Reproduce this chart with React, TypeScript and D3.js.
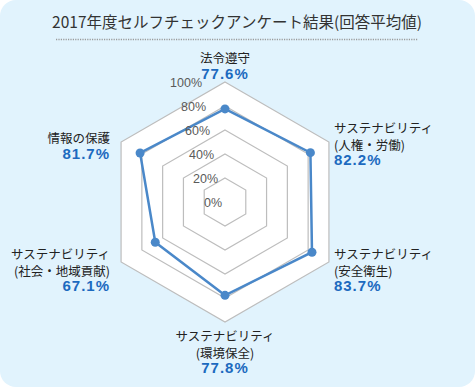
import React from "react";
import * as d3 from "d3";

const title = "2017年度セルフチェックアンケート結果(回答平均値)";
const categories = [
  ["法令遵守"],
  ["サステナビリティ", "(人権・労働)"],
  ["サステナビリティ", "(安全衛生)"],
  ["サステナビリティ", "(環境保全)"],
  ["サステナビリティ", "(社会・地域貢献)"],
  ["情報の保護"],
];
const values = [77.6, 82.2, 83.7, 77.8, 67.1, 81.7];
const ticks = [0, 20, 40, 60, 80, 100];

const W = 475;
const H = 387;
const cx = 225;
const cy = 202;
const R = 120;
const jp = "'Noto Sans CJK JP', 'Noto Sans', sans-serif";
const num = "'Liberation Sans', Arial, sans-serif";

// label anchor per axis: [dx from vertex, y of first line, anchor]
const labelPos: [number, number, "start" | "middle" | "end"][] = [
  [0, 63, "middle"],
  [5, 133, "start"],
  [5, 259, "start"],
  [0, 341, "middle"],
  [-11, 259, "end"],
  [-11, 143, "end"],
];

export default function App() {
  const r = d3.scaleLinear().domain([0, 100]).range([0, R]);
  const angle = (i: number) => (i * 2 * Math.PI) / categories.length;
  const pt = (i: number, v: number): [number, number] => [
    cx + r(v) * Math.sin(angle(i)),
    cy - r(v) * Math.cos(angle(i)),
  ];

  const radial = d3
    .lineRadial<number>()
    .angle((_, i) => angle(i))
    .radius((d) => r(d))
    .curve(d3.curveLinearClosed);

  const ring = (v: number) => radial(categories.map(() => v)) || "";

  return (
    <svg
      width={W}
      height={H}
      style={{ position: "absolute", left: 0, top: 0, background: "#fff" }}
    >
      <rect x={0} y={0} width={W} height={H} rx={16} fill="#e1f3fd" />
      <text
        x={237}
        y={28}
        textAnchor="middle"
        fontFamily={jp}
        fontSize={15.5}
        fill="#333"
      >
        {title}
      </text>
      <line
        x1={56}
        x2={418}
        y1={39.5}
        y2={39.5}
        stroke="#9a9a9a"
        strokeWidth={1.5}
        strokeDasharray="1.2 1.2"
      />
      <g transform={`translate(${cx},${cy})`}>
        <path d={ring(100)} fill="#fff" />
        {ticks
          .filter((t) => t > 0)
          .map((t) => (
            <path key={t} d={ring(t)} fill="none" stroke="#bdbdbd" strokeWidth={1.2} />
          ))}
        <path d={radial(values) || ""} fill="none" stroke="#4a88c9" strokeWidth={2.5} />
      </g>
      {values.map((v, i) => {
        const [x, y] = pt(i, v);
        return <circle key={i} cx={x} cy={y} r={4.5} fill="#4a88c9" />;
      })}
      {ticks.map((t) => (
        <text
          key={t}
          x={cx - 3 - t * 0.2}
          y={cy - r(t)}
          dy="0.4em"
          textAnchor="end"
          fontFamily={num}
          fontSize={12.5}
          fill="#5a5a5a"
        >
          {t}%
        </text>
      ))}
      {categories.map((lines, i) => {
        const [vx] = pt(i, 100);
        const [dx, y0, anchor] = labelPos[i];
        return (
          <g key={i}>
            {lines.map((l, j) => (
              <text
                key={j}
                x={vx + dx}
                y={y0 + j * 17}
                textAnchor={anchor}
                fontFamily={jp}
                fontSize={12.5}
                fill="#222"
              >
                {l}
              </text>
            ))}
            <text
              x={vx + dx}
              y={y0 + lines.length * 16}
              textAnchor={anchor}
              fontFamily={num}
              fontWeight="bold"
              fontSize={15}
              letterSpacing={1}
              fill="#1c6abf"
            >
              {d3.format(".1f")(values[i])}%
            </text>
          </g>
        );
      })}
    </svg>
  );
}
